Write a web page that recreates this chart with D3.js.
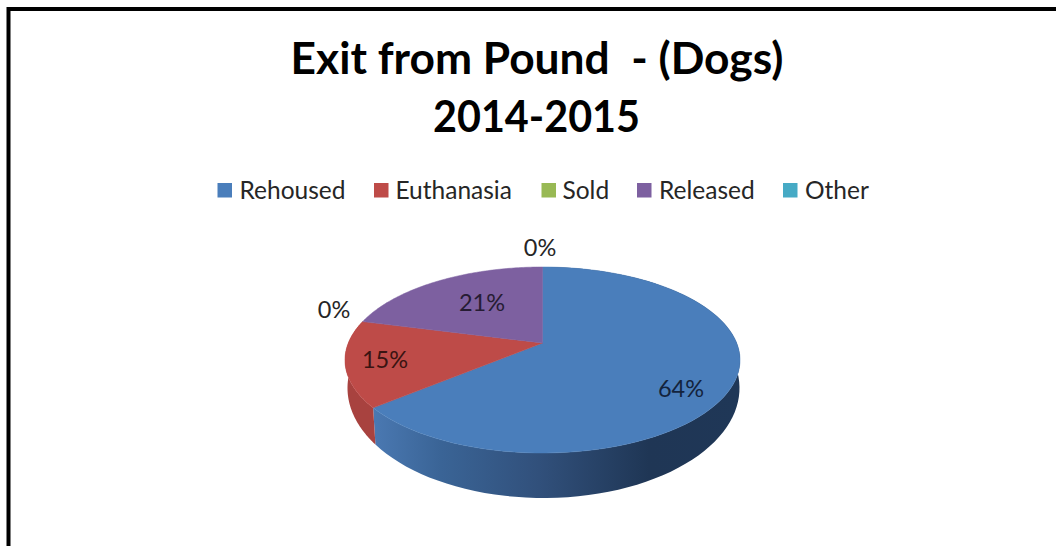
<!DOCTYPE html>
<html>
<head>
<meta charset="utf-8">
<script src="https://cdn.jsdelivr.net/npm/d3@7/dist/d3.min.js"></script>
<style>
html,body{margin:0;padding:0;background:#fff;overflow:hidden}
text{font-family:Lato,"Open Sans",sans-serif}
</style>
</head>
<body>
<svg id="chart" width="1056" height="546"></svg>
<script>
// Share of dogs leaving the pound by exit route
const categories = ["Rehoused", "Euthanasia", "Sold", "Released", "Other"];
const shares = [64, 15, 0, 21, 0];
const palette = ["#4a7ebb", "#be4b48", "#98b954", "#7d60a0", "#46aac5"];
const titleLines = ["Exit from Pound  - (Dogs)", "2014-2015"];

const svg = d3.select("#chart");
const color = d3.scaleOrdinal(categories, palette);

// Frame round the chart area
svg.append("rect").attr("x", 8.5).attr("y", 9).attr("width", 1060).attr("height", 560)
  .attr("fill", "#fff").attr("stroke", "#000").attr("stroke-width", 4);

// Title; the digits of the second line are condensed to the narrower title setting
svg.selectAll("text.title").data(titleLines).join("text")
  .attr("class", "title")
  .attr("x", (d, i) => i ? 536.5 : 537)
  .attr("y", (d, i) => 74 + i * 58)
  .attr("text-anchor", "middle")
  .attr("font-size", 44.3).attr("font-weight", 700).attr("fill", "#000")
  .style("white-space", "pre")
  .each(function (d, i) {
    if (i) d3.select(this).attr("textLength", 207).attr("lengthAdjust", "spacingAndGlyphs");
  })
  .text(d => d);

// Legend
const legendX = [217.5, 374, 541.5, 637, 783];
const legendTextX = [239.5, 395.5, 562.5, 659, 805];
const legend = svg.selectAll("g.legend").data(categories).join("g")
  .attr("class", "legend");
legend.append("rect").attr("x", (d, i) => legendX[i]).attr("y", 183)
  .attr("width", 14.5).attr("height", 14.5).attr("fill", d => color(d));
legend.append("text").attr("x", (d, i) => legendTextX[i]).attr("y", 198.5)
  .attr("font-size", 24.5).attr("fill", "#262626").text(d => d);

// Perspective projection of the pie disc: angle 0 at the top, running clockwise
const K = 0.1828;
const upperPlane = {cx: 542.5, apex: 343, a: 89.9, c: 194.2};
const lowerPlane = {cx: 543.5, apex: 367.9, a: 106.3, c: 192.7};
function project(plane, theta, r = 1) {
  const u = r * Math.sin(theta), v = -r * Math.cos(theta), w = 1 - K * v;
  return [plane.cx + plane.c * u / w, plane.apex + plane.a * v / w];
}
const line = d3.line();
const steps = (a0, a1) => d3.range(0, 91).map(i => a0 + (a1 - a0) * i / 90);

const slices = d3.pie().sort(null).value(d => d)(shares)
  .map((s, i) => ({...s, name: categories[i]}));

// Horizontal shading of the blue outer wall
const defs = svg.append("defs");
const wallGrad = defs.append("linearGradient").attr("id", "wallBlue")
  .attr("gradientUnits", "userSpaceOnUse")
  .attr("x1", 375).attr("x2", 740).attr("y1", 0).attr("y2", 0);
[[0, "#4a78b1"], [0.18, "#3a6496"], [0.45, "#31507b"], [0.75, "#1f3655"], [1, "#1f3757"]]
  .forEach(([o, c]) => wallGrad.append("stop").attr("offset", o).attr("stop-color", c));

const wallFill = {Rehoused: "url(#wallBlue)", Euthanasia: "#a8423f"};

// Outer walls first, then the top faces cover their far side
const pieG = svg.append("g");
slices.filter(s => s.value > 0 && wallFill[s.name]).forEach(s => {
  const angles = steps(s.startAngle, s.endAngle);
  const pts = angles.map(t => project(upperPlane, t))
    .concat(angles.slice().reverse().map(t => project(lowerPlane, t)));
  pieG.append("path").attr("d", line(pts) + "Z").attr("fill", wallFill[s.name]);
});
slices.filter(s => s.value > 0).forEach(s => {
  const rim = steps(s.startAngle, s.endAngle).map(t => project(upperPlane, t));
  pieG.append("path").attr("d", line([project(upperPlane, 0, 0), ...rim]) + "Z")
    .attr("fill", color(s.name)).attr("stroke", color(s.name)).attr("stroke-width", 0.5);
});

// Percentage labels
const labelPos = {Rehoused: [681, 397], Euthanasia: [385, 368], Sold: [334, 318], Released: [482, 311], Other: [540, 256]};
const labelColor = {Rehoused: "#13233d", Euthanasia: "#3a1412", Sold: "#262626", Released: "#261c33", Other: "#262626"};
svg.selectAll("text.pct").data(slices).join("text")
  .attr("class", "pct")
  .attr("x", d => labelPos[d.name][0]).attr("y", d => labelPos[d.name][1])
  .attr("text-anchor", "middle").attr("font-size", 23.5)
  .attr("fill", d => labelColor[d.name])
  .text(d => d.value + "%");
</script>
</body>
</html>
